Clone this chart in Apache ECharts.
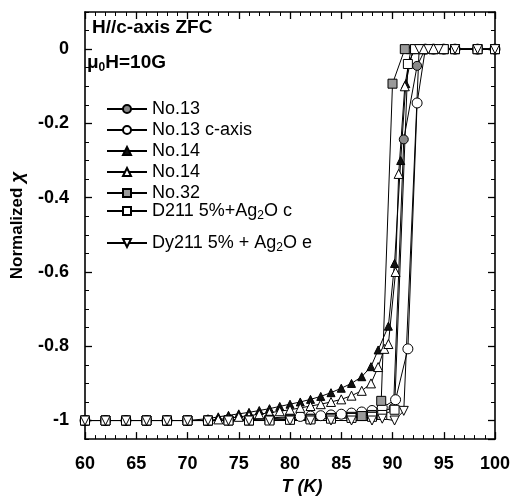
<!DOCTYPE html>
<html><head><meta charset="utf-8">
<script src="https://cdn.jsdelivr.net/npm/echarts@6/dist/echarts.min.js"></script>
<style>html,body{margin:0;padding:0;background:#fff}#c{width:528px;height:501px}</style>
</head><body><div id="c"></div>
<script>
// ---- data ----
const xTicks = [60, 65, 70, 75, 80, 85, 90, 95, 100];
const yTicks = [0, -0.2, -0.4, -0.6, -0.8, -1];

const no13T = [60,62,64,66,68,70,72,74,76,78,80,82,84,86,87,88,89,90.1,91.1,92.4,93.2,94,95,96.1,98.3,100];
const no13V = [-1,-1,-1,-1,-1,-1,-1,-1,-0.998,-0.995,-0.993,-0.99,-0.988,-0.985,-0.983,-0.98,-0.975,-0.966,-0.243,-0.045,0,0,0,0,0,0];

const no13cT = [60,62,64,66,68,70,72,74,76,78,80,81,82,83,84,85,86,87,88,89,90.3,91.5,92.4,93.2,94,95,96.1,98.3,100];
const no13cV = [-1,-1,-1,-1,-1,-1,-1,-0.998,-0.996,-0.993,-0.99,-0.989,-0.988,-0.987,-0.985,-0.983,-0.98,-0.977,-0.973,-0.965,-0.944,-0.807,-0.145,0,0,0,0,0,0];

const no14aT = [60,62,64,66,68,70,72,73,74,75,76,77,78,79,80,81,82,83,84,85,86,87,87.9,88.6,89.6,90.2,90.8,91.3,92,93,94,95,96.1,98.3,100];
const no14aV = [-1,-1,-1,-1,-1,-1,-0.995,-0.99,-0.986,-0.982,-0.978,-0.973,-0.968,-0.962,-0.956,-0.95,-0.943,-0.935,-0.925,-0.913,-0.9,-0.882,-0.855,-0.81,-0.746,-0.577,-0.3,-0.093,0,0,0,0,0,0,0];

const no14bT = [60,62,64,66,68,70,72,73,74,75,76,77,78,79,80,81,82,83,84,85,86,87,87.9,88.6,89.2,89.6,90.3,90.6,91.2,91.8,93,94,95,96.1,98.3,100];
const no14bV = [-1,-1,-1,-1,-1,-1,-1,-0.997,-0.994,-0.99,-0.987,-0.983,-0.979,-0.975,-0.971,-0.966,-0.961,-0.956,-0.95,-0.943,-0.933,-0.92,-0.9,-0.856,-0.807,-0.794,-0.6,-0.336,-0.1,0,0,0,0,0,0,0];

const no32T = [60,62,64,66,68,70,72,74,76,78,80,82,84,86,87,88,88.9,90,91.2,92.2,93,94,95,96.1,98.3,100];
const no32V = [-1,-1,-1,-1,-1,-1,-1,-1,-1,-0.998,-0.997,-0.995,-0.993,-0.99,-0.988,-0.985,-0.947,-0.093,0,0,0,0,0,0,0,0];

const d211T = [60,62,64,66,68,70,72,74,76,78,80,82,84,86,88,89,90.2,91.5,92.2,93,94,95,96.1,98.3,100];
const d211V = [-1,-1,-1,-1,-1,-1,-1,-1,-1,-1,-0.998,-0.997,-0.995,-0.993,-0.99,-0.985,-0.971,-0.04,0,0,0,0,0,0,0];

const dy211T = [60,62,64,66,68,70,72,74,76,78,80,82,84,86,88,89,90.2,91.1,92.6,93.5,94.5,96.1,98.3,100];
const dy211V = [-1,-1,-1,-1,-1,-1,-1,-1,-1,-1,-1,-1,-1,-1,-1,-0.995,-1,-0.974,0,0,0,0,0,0];

const names = ['No.13', 'No.13 c-axis', 'No.14', 'No.14 ', 'No.32', 'D211 5%+Ag2O c', 'Dy211 5% + Ag2O e'];

// ---- chart ----
const F = 'Liberation Sans, Arial, sans-serif';
const pairs = (t, v) => t.map((x, i) => [x, v[i]]);
const downTri = 'path://M0,0L10,0L5,9Z';

function mk(name, t, v, symbol, fill, size) {
  return {
    name, type: 'line', data: pairs(t, v), symbol, symbolSize: size,
    lineStyle: {color: '#000', width: 1},
    itemStyle: {color: fill, borderColor: '#000', borderWidth: 1},
    emphasis: {disabled: true}, animation: false, z: 3
  };
}

const series = [
  mk(names[0], no13T, no13V, 'circle', '#8a8a8a', 9),
  mk(names[1], no13cT, no13cV, 'circle', '#fff', 10),
  mk(names[2], no14aT, no14aV, 'triangle', '#111', 8),
  mk(names[3], no14bT, no14bV, 'triangle', '#fff', 9),
  mk(names[4], no32T, no32V, 'rect', '#9a9a9a', 9),
  mk(names[5], d211T, d211V, 'rect', '#fff', 9),
  mk(names[6], dy211T, dy211V, downTri, '#fff', 9)
];

const tickMajor = {show: true, inside: true, length: 7, lineStyle: {color: '#000', width: 1.3}};
const tickMinor = {show: true, inside: true, length: 4, lineStyle: {color: '#000', width: 1}};
const axLine = {show: true, onZero: false, lineStyle: {color: '#000', width: 1.6}};
const labelFont = {fontFamily: F, fontWeight: 'bold', fontSize: 18, color: '#000'};
const subRich = {s: {fontFamily: F, fontSize: 12, padding: [10, 0, 0, 0], color: '#000'}};

const yMin = -1.05, yMax = 0.1;

const option = {
  backgroundColor: '#fff',
  animation: false,
  grid: {left: 82, right: 33, top: 12, bottom: 55, containLabel: false},
  xAxis: [
    {type: 'value', position: 'bottom', min: 60, max: 100, interval: 5,
     axisLine: axLine, axisTick: tickMajor,
     minorTick: {show: true, splitNumber: 5, length: 4, lineStyle: {color: '#000', width: 1}},
     splitLine: {show: false},
     axisLabel: Object.assign({margin: 16, formatter: v => xTicks.includes(v) ? String(v) : ''}, labelFont),
     name: 'T (K)', nameLocation: 'middle', nameGap: 34,
     nameTextStyle: {fontFamily: F, fontWeight: 'bold', fontStyle: 'italic', fontSize: 18, color: '#000', padding: [0, 0, 0, 24]}},
    {type: 'value', position: 'top', min: 60, max: 100, interval: 5,
     axisLine: axLine, axisTick: tickMajor,
     minorTick: {show: true, splitNumber: 5, length: 4, lineStyle: {color: '#000', width: 1}},
     splitLine: {show: false}, axisLabel: {show: false}}
  ],
  yAxis: [
    {type: 'value', position: 'left', min: yMin, max: yMax, splitNumber: 5,
     axisLine: axLine, axisTick: tickMajor, splitLine: {show: false},
     axisLabel: Object.assign({margin: 16, showMinLabel: false, showMaxLabel: false,
       formatter: v => { const r = Math.round(v * 5) / 5; return (Math.abs(v - r) < 1e-6 && yTicks.includes(+r.toFixed(1))) ? String(+r.toFixed(1)) : ''; }}, labelFont),
     name: 'Normalized {i|χ}', nameLocation: 'middle', nameGap: 58, nameRotate: 90,
     nameTextStyle: {fontFamily: F, fontWeight: 'bold', fontSize: 17, color: '#000',
       rich: {i: {fontFamily: F, fontWeight: 'bold', fontStyle: 'italic', fontSize: 19, color: '#000'}}}},
    {type: 'value', position: 'left', min: yMin, max: yMax, interval: 0.05,
     axisLine: {show: false, onZero: false}, axisTick: tickMinor, splitLine: {show: false}, axisLabel: {show: false}},
    {type: 'value', position: 'right', min: yMin, max: yMax, splitNumber: 5,
     axisLine: axLine, axisTick: tickMajor, splitLine: {show: false}, axisLabel: {show: false}},
    {type: 'value', position: 'right', min: yMin, max: yMax, interval: 0.05,
     axisLine: {show: false, onZero: false}, axisTick: tickMinor, splitLine: {show: false}, axisLabel: {show: false}}
  ],
  legend: [
    {data: names.slice(0, 5), orient: 'vertical', left: 101, top: 95, itemWidth: 40, itemHeight: 10, itemGap: 3,
     selectedMode: false, textStyle: {fontFamily: F, fontSize: 18, lineHeight: 18, color: '#000'},
     formatter: n => n.trim()},
    {data: [names[5]], orient: 'vertical', left: 101, top: 197, itemWidth: 40, itemHeight: 10,
     selectedMode: false, textStyle: {fontFamily: F, fontSize: 18, lineHeight: 18, color: '#000', rich: subRich},
     formatter: () => 'D211 5%+Ag{s|2}O c'},
    {data: [names[6]], orient: 'vertical', left: 101, top: 229, itemWidth: 40, itemHeight: 10,
     selectedMode: false, textStyle: {fontFamily: F, fontSize: 18, lineHeight: 18, color: '#000', rich: subRich},
     formatter: () => 'Dy211 5% + Ag{s|2}O e'}
  ],
  graphic: [
    {type: 'text', left: 92, top: 18, z: 10,
     style: {text: 'H//c-axis ZFC', font: 'bold 19px ' + F, fill: '#000'}},
    {type: 'text', left: 87, top: 53, z: 10,
     style: {text: '{b|μ}{s|0}{b|H=10G}', fill: '#000',
       rich: {b: {fontFamily: F, fontWeight: 'bold', fontSize: 19, color: '#000'},
              s: {fontFamily: F, fontWeight: 'bold', fontSize: 12, padding: [11, 0, 0, 0], color: '#000'}}}}
  ],
  series: series
};

const chart = echarts.init(document.getElementById('c'), null, {renderer: 'canvas'});
chart.setOption(option);
</script>
</body></html>
